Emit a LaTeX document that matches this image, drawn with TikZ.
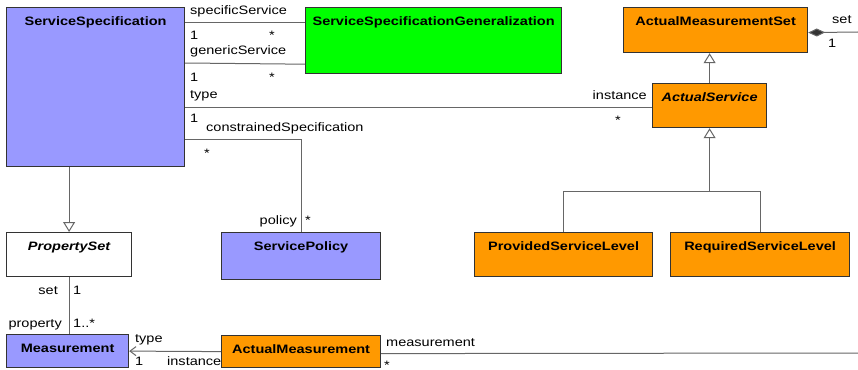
\documentclass[tikz,border=0pt]{standalone}
\usepackage{fontspec}
\setmainfont[FakeStretch=1.19]{Liberation Sans}
\usetikzlibrary{arrows.meta}

\definecolor{specblue}{HTML}{9999FF}
\definecolor{gengreen}{HTML}{00FF00}
\definecolor{actorange}{HTML}{FF9900}
\definecolor{linegray}{HTML}{666666}

\begin{document}
\begin{tikzpicture}
    [
        x=1pt, y=-1pt,
        font=\fontsize{12.2}{14}\selectfont,
        class/.style={rectangle, draw=black!80, line width=1.2pt, anchor=north west, inner sep=0pt, text height=17.5pt, font=\fontsize{12.2}{14}\selectfont\bfseries},
        abstract/.style={class, font=\fontsize{12.2}{14}\selectfont\bfseries\itshape},
        role/.style={anchor=base west, inner sep=0pt},
        rolel/.style={anchor=base east, inner sep=0pt},
        link/.style={draw=linegray, line width=1pt},
        inherit/.style={link, -{Triangle[open, length=10pt, width=12pt, fill=white]}},
        navig/.style={link, -{Straight Barb[length=6pt, width=9pt]}},
        compose/.style={link, {Diamond[length=17pt, width=8pt, fill=black!80]}-}
    ]
    \useasboundingbox (0,0) rectangle (858,369);

    % Nodes
    \node[class, fill=specblue, minimum width=178pt, text depth=141.5pt] (spec) at (6,7) {ServiceSpecification};
    \node[class, fill=gengreen, minimum width=256pt, text depth=48.5pt] (gen) at (305,7) {ServiceSpecificationGeneralization};
    \node[class, fill=actorange, minimum width=184pt, text depth=27.5pt] (ams) at (623,7) {ActualMeasurementSet};
    \node[abstract, fill=actorange, minimum width=114pt, text depth=26.5pt] (aserv) at (652,83) {ActualService};
    \node[class, fill=actorange, minimum width=178pt, text depth=26.5pt] (prov) at (474,232) {ProvidedServiceLevel};
    \node[class, fill=actorange, minimum width=179pt, text depth=26.5pt] (req) at (670,232) {RequiredServiceLevel};
    \node[abstract, fill=white, minimum width=125pt, text depth=26.5pt] (propset) at (6,232) {PropertySet};
    \node[class, fill=specblue, minimum width=159pt, text depth=29.5pt] (policy) at (221,232) {ServicePolicy};
    \node[class, fill=specblue, minimum width=122pt, text depth=15.5pt] (meas) at (6,334) {Measurement};
    \node[class, fill=actorange, minimum width=159pt, text depth=14.5pt] (actmeas) at (221,335) {ActualMeasurement};

    % Free ends
    \coordinate (setend) at (858,32);
    \coordinate (measend) at (858,353);
    \coordinate (typeend) at ([yshift=-2pt]aserv.west);
    \coordinate (fork) at ([yshift=41pt]prov.north);

    % Arrows
    \draw[link] ([yshift=-16pt]spec.north east) -- ([yshift=-16pt]gen.north west);
    \draw[link] ([yshift=-56pt]spec.north east) -- ([yshift=10pt]gen.south west);
    \draw[link] (spec.east |- typeend) -- (typeend);
    \draw[link] ([yshift=28pt]spec.south east) -| (policy.north);
    \draw[inherit] (spec.south -| propset.north) -- (propset.north);
    \draw[link] (propset.south) -- (propset.south |- meas.north);
    \draw[navig] (actmeas.west) -- (meas.east);
    \draw[link] ([yshift=-2pt]actmeas.east) -- (measend);
    \draw[compose] ([yshift=-2.5pt]ams.east) -- (setend);
    \draw[inherit] (aserv.north) -- (aserv.north |- ams.south);
    \draw[link] (prov.north) |- (fork -| req.north) -- (req.north);
    \draw[inherit] (fork -| aserv.south) -- (aserv.south);

    % Role names and multiplicities
    \node[role] (specificrole) at (190,15) {specificService};
    \node[role] (specificone) at (190,40) {1};
    \node[role] (specificmany) at (269,40) {*};
    \node[role] (genericrole) at (190,55) {genericService};
    \node[role] (genericone) at (190,81) {1};
    \node[role] (genericmany) at (269,81) {*};
    \node[role] (typerole) at (190,98) {type};
    \node[role] (typeone) at (190,122) {1};
    \node[rolel] (instancerole) at (647,99) {instance};
    \node[role] (instancemany) at (615,124) {*};
    \node[role] (constrainedrole) at (206,131) {constrainedSpecification};
    \node[role] (constrainedmany) at (204,157) {*};
    \node[rolel] (policyrole) at (297,224) {policy};
    \node[role] (policymany) at (305,224) {*};
    \node[role] (setrole) at (832,24) {set};
    \node[role] (setone) at (828,48) {1};
    \node[rolel] (propsetrole) at (58,294) {set};
    \node[role] (propsetone) at (73,294) {1};
    \node[rolel] (propertyrole) at (62,327) {property};
    \node[role] (propertymany) at (73,327) {1..*};
    \node[role] (measrole) at (135,342) {type};
    \node[role] (measone) at (135,365) {1};
    \node[role] (actinstance) at (167,365) {instance};
    \node[role] (measurementrole) at (386,346) {measurement};
    \node[role] (measurementmany) at (384,369) {*};
\end{tikzpicture}
\end{document}
